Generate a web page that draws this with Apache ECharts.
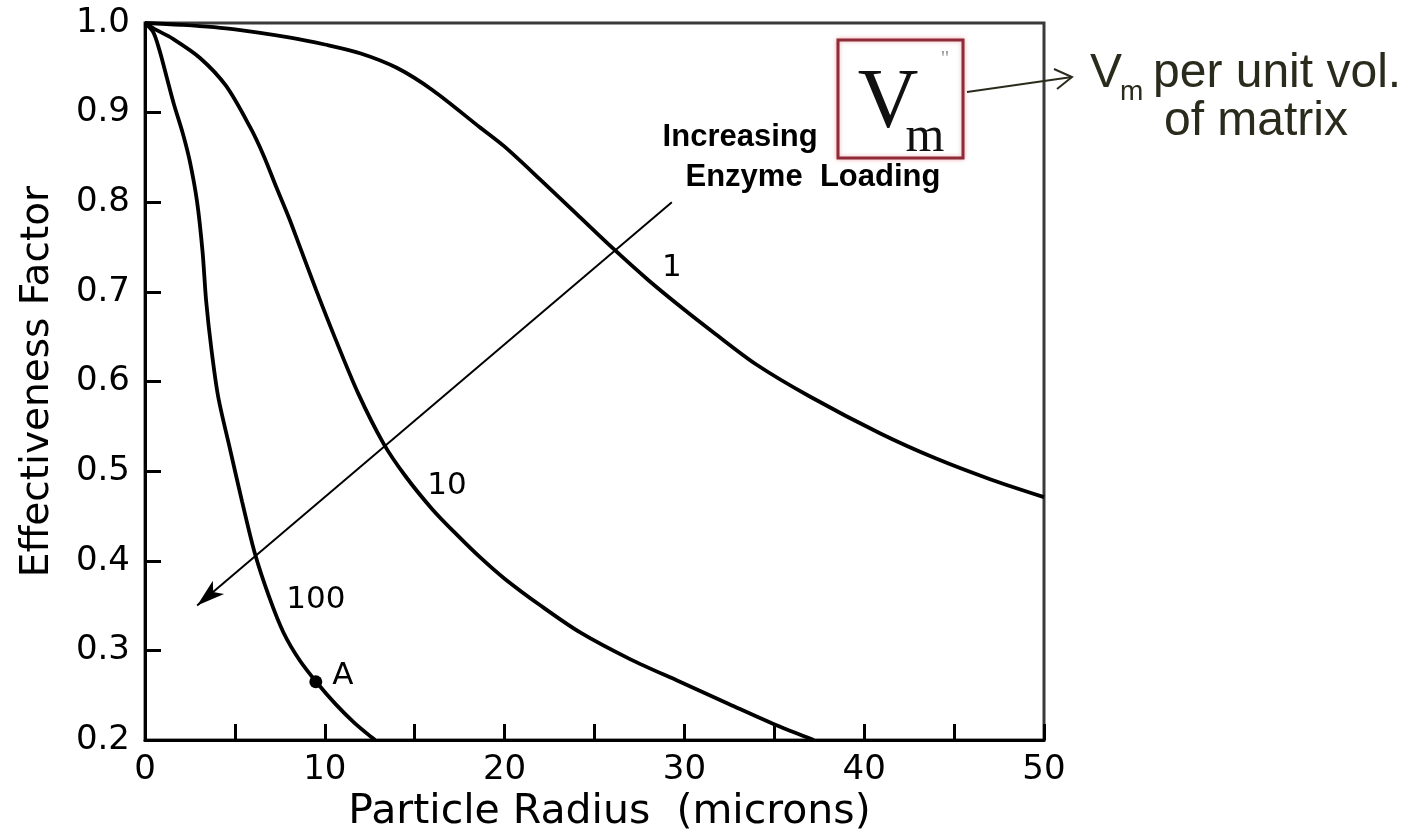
<!DOCTYPE html>
<html>
<head>
<meta charset="utf-8">
<script src="https://cdn.jsdelivr.net/npm/echarts@6/dist/echarts.min.js"></script>
<style>
html,body{margin:0;padding:0;background:#fff;}
#chart{width:1417px;height:838px;}
</style>
</head>
<body>
<div id="chart"></div>
<script>
// ---------- data ----------
const xLabelValues = [0, 10, 20, 30, 40, 50];
const yLabelValues = [0.2, 0.3, 0.4, 0.5, 0.6, 0.7, 0.8, 0.9, 1.0];

// V''m = 1
const curve1 = [[0,1.0],[2,0.998],[5,0.993],[8,0.984],[10,0.976],[12,0.966],[14,0.950],[16,0.925],[18.6,0.884],[20,0.862],[22,0.825],[24,0.787],[26,0.749],[28,0.713],[30,0.680],[31.6,0.655],[34,0.619],[37,0.583],[40.9,0.542],[44,0.514],[47,0.491],[50,0.471]];
// V''m = 10
const curve10 = [[0,1.0],[0.65,0.992],[1.5,0.983],[3.06,0.961],[4.5,0.93],[5.84,0.884],[6.6,0.852],[7.3,0.817],[8.0,0.783],[8.6,0.751],[9.5,0.703],[10.5,0.652],[11.85,0.587],[13.26,0.531],[14.5,0.494],[16.0,0.457],[17.3,0.430],[18.63,0.404],[20,0.380],[22,0.350],[24.2,0.320],[27,0.290],[29.75,0.265],[32.5,0.240],[35.3,0.215],[37.2,0.200]];
// V''m = 100
const curve100 = [[0,1.0],[0.45,0.99],[0.8,0.97],[1.2,0.94],[1.6,0.91],[2.1,0.877],[2.5,0.845],[2.9,0.80],[3.2,0.745],[3.4,0.69],[3.7,0.635],[4.07,0.583],[4.7,0.527],[5.4,0.466],[6.1,0.409],[6.9,0.360],[7.7,0.320],[8.6,0.289],[9.6,0.263],[10.6,0.240],[11.6,0.220],[12.6,0.203],[12.8,0.200]];

const pointA = [[9.5, 0.265]];
const loadingArrow = [[29.3, 0.80], [2.9, 0.35]];

const curveLabels = [
  {name: '1',   value: [29.3, 0.727]},
  {name: '10',  value: [16.8, 0.484]},
  {name: '100', value: [9.5, 0.356]},
  {name: 'A',   value: [11.0, 0.272]}
];
const arrowText = [
  {name: 'Increasing',       value: [33.1, 0.872]},
  {name: 'Enzyme  Loading',  value: [37.15, 0.828]}
];

// ---------- chart ----------
const chart = echarts.init(document.getElementById('chart'));
const FONT = "'DejaVu Sans', sans-serif";
const CLEAR = 'rgba(0,0,0,0)';
const lineSeries = (name, data) => ({
  name, type: 'line', data, smooth: 0.3, symbol: 'none', clip: true,
  lineStyle: {color: '#000', width: 3.8}, silent: true, z: 3
});

chart.setOption({
  animation: false,
  backgroundColor: '#fff',
  grid: {left: 145, right: 373, top: 23, bottom: 98, show: true,
         borderColor: '#3a3a3a', borderWidth: 3, backgroundColor: 'transparent'},
  xAxis: {
    type: 'value', min: 0, max: 50, interval: 5,
    name: 'Particle Radius  (microns)', nameLocation: 'middle', nameGap: 44,
    nameTextStyle: {fontFamily: FONT, fontSize: 41, color: '#000', padding: [0, 0, 0, 30]},
    axisLine: {show: true, onZero: false, lineStyle: {color: '#000', width: 3}},
    axisTick: {show: true, inside: true, length: 16, lineStyle: {color: '#000', width: 3}},
    axisLabel: {fontFamily: FONT, fontSize: 34, color: '#000', margin: 13,
      formatter: v => xLabelValues.includes(Math.round(v)) && Math.abs(v - Math.round(v)) < 1e-6 ? String(Math.round(v)) : ''},
    splitLine: {show: false}
  },
  yAxis: {
    type: 'value', min: 0.2, max: 1.0, interval: 0.1,
    name: 'Effectiveness Factor', nameLocation: 'middle', nameGap: 88, nameRotate: 90,
    nameTextStyle: {fontFamily: FONT, fontSize: 39, color: '#000'},
    axisLine: {show: true, onZero: false, lineStyle: {color: '#000', width: 3}},
    axisTick: {show: true, inside: true, length: 16, lineStyle: {color: '#000', width: 3}},
    axisLabel: {fontFamily: FONT, fontSize: 34, color: '#000', margin: 15,
      formatter: v => {
        const m = yLabelValues.find(t => Math.abs(t - v) < 1e-6);
        return m === undefined ? '' : m.toFixed(1);
      }},
    splitLine: {show: false}
  },
  series: [
    lineSeries('1', curve1),
    lineSeries('10', curve10),
    Object.assign(lineSeries('100', curve100), {
      markLine: {
        silent: true, symbol: ['none', 'arrow'], symbolSize: [13, 28], precision: 3,
        lineStyle: {color: '#000', width: 2, type: 'solid'},
        label: {show: false},
        data: [[{coord: loadingArrow[0]}, {coord: loadingArrow[1]}]]
      }
    }),
    {type: 'scatter', data: pointA, symbol: 'circle', symbolSize: 13,
     itemStyle: {color: '#000', opacity: 1}, silent: true, z: 5},
    {type: 'scatter', data: curveLabels, symbolSize: 2, itemStyle: {color: CLEAR, opacity: 1}, silent: true, z: 6,
     label: {show: true, position: 'inside', formatter: p => p.name,
             fontFamily: FONT, fontSize: 31, color: '#000'}},
    {type: 'scatter', data: arrowText, symbolSize: 2, itemStyle: {color: CLEAR, opacity: 1}, silent: true, z: 6,
     label: {show: true, position: 'inside', formatter: p => p.name,
             fontFamily: "'Liberation Sans', Arial, sans-serif", fontWeight: 'bold', fontSize: 31, color: '#000'}}
  ],
  graphic: [
    // boxed V''m symbol
    {type: 'rect', shape: {x: 838, y: 40, width: 125, height: 118},
     style: {fill: '#fff', stroke: '#8e2b36', lineWidth: 3, shadowBlur: 4, shadowColor: 'rgba(230,130,140,0.6)'}, z: 10},
    {type: 'text', x: 888, y: 147, z: 11,
     style: {text: 'V', font: "84px 'Liberation Serif', 'DejaVu Serif', serif", fill: '#111', align: 'center', verticalAlign: 'bottom'}},
    {type: 'text', x: 925, y: 163, z: 11,
     style: {text: 'm', font: "50px 'Liberation Serif', 'DejaVu Serif', serif", fill: '#111', align: 'center', verticalAlign: 'bottom'}},
    {type: 'text', x: 945, y: 48, z: 11,
     style: {text: "''", font: "22px 'Liberation Serif', serif", fill: '#999', align: 'center', verticalAlign: 'top'}},
    // pointer arrow to outside note
    {type: 'line', shape: {x1: 967, y1: 92, x2: 1072, y2: 77}, style: {stroke: '#2b2b1d', lineWidth: 2}, z: 10},
    {type: 'polyline', shape: {points: [[1054, 69], [1072, 77], [1057, 89]]}, style: {stroke: '#2b2b1d', lineWidth: 2, fill: null}, z: 10},
    // outside note
    {type: 'text', x: 1090, y: 74, z: 10,
     style: {text: 'V', font: "48px 'Liberation Sans', Arial, sans-serif", fill: '#2b2b1d', align: 'left', verticalAlign: 'middle'}},
    {type: 'text', x: 1120, y: 92, z: 10,
     style: {text: 'm', font: "28px 'Liberation Sans', Arial, sans-serif", fill: '#2b2b1d', align: 'left', verticalAlign: 'middle'}},
    {type: 'text', x: 1153, y: 74, z: 10,
     style: {text: 'per unit vol.', font: "48px 'Liberation Sans', Arial, sans-serif", fill: '#2b2b1d', align: 'left', verticalAlign: 'middle'}},
    {type: 'text', x: 1256, y: 122, z: 10,
     style: {text: 'of matrix', font: "48px 'Liberation Sans', Arial, sans-serif", fill: '#2b2b1d', align: 'center', verticalAlign: 'middle'}}
  ]
});
</script>
</body>
</html>
